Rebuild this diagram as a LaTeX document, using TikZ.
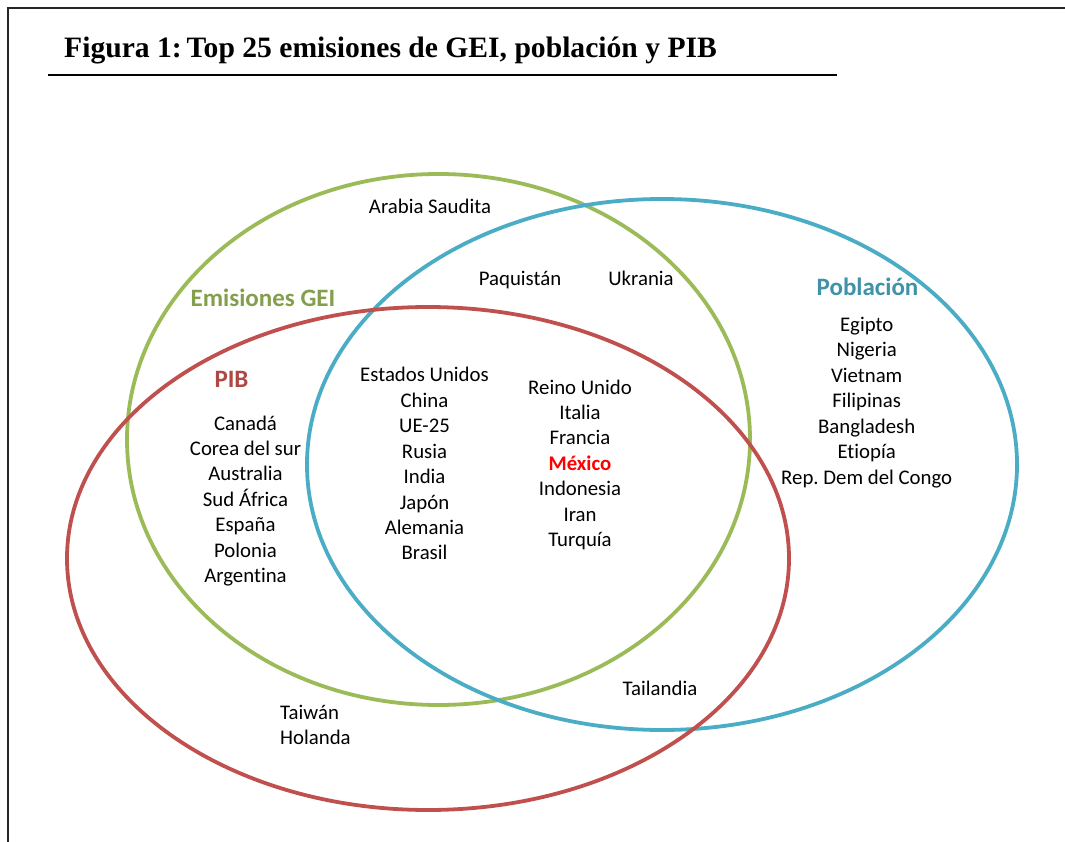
\documentclass[tikz,border=0pt]{standalone}
\usepackage{fontspec}
\setmainfont[Ligatures={NoCommon}]{Carlito}
\newfontfamily\titlefont{Liberation Serif}
\definecolor{geigreen}{HTML}{9BBB59}
\definecolor{poblue}{HTML}{4BACC6}
\definecolor{pibred}{HTML}{C0504D}
\begin{document}
\begin{tikzpicture}[x=1pt,y=-1pt,
  item/.style={anchor=base,inner sep=0pt,font=\fontsize{20.8}{24}\selectfont},
  setlabel/.style={anchor=base,inner sep=0pt,font=\fontsize{25}{30}\selectfont\bfseries},
  ring/.style={line width=3.8pt}]
\useasboundingbox (0,0) rectangle (1065,842);
% frame
\draw[line width=1.6pt,black!85] (8,842) -- (8,8) -- (1065,8);
% title
\node[anchor=base west,inner sep=0pt,font=\titlefont\fontsize{29.6}{34}\selectfont\bfseries] (title) at (64,58) {Figura 1:\,Top 25 emisiones de GEI, población y PIB};
\coordinate (ulA) at (48,75);
\coordinate (ulB) at (837,75);
\draw[line width=1.4pt] (ulA) -- (ulB);
% ellipses
\draw[ring,geigreen] (438.5,439.5) ellipse [x radius=311.5, y radius=265.5];
\draw[ring,poblue] (662,464.5) ellipse [x radius=355, y radius=265.5];
\draw[ring,pibred] (428,558.5) ellipse [x radius=361, y radius=251.5];
% set labels
\node[setlabel,text=geigreen!85!black] (lgei) at (263,306) {Emisiones GEI};
\node[setlabel,text=poblue!85!black] (lpob) at (867.5,295) {Población};
\node[setlabel,text=pibred!90!black] (lpib) at (231.5,387) {PIB};
% single items
\node[item] (arabia) at (430,214) {Arabia Saudita};
\node[item] (paq) at (520,286) {Paquistán};
\node[item] (ukr) at (641,286) {Ukrania};
\node[item] (tai) at (660,695) {Tailandia};
\node[item,anchor=base west] (taiw) at (280,719) {Taiwán};
\node[item,anchor=base west] (hol) at (280,744) {Holanda};
% lists
\foreach \t [count=\i] in {Canadá,Corea del sur,Australia,Sud África,España,Polonia,Argentina}
  \node[item] (pibonly\i) at (245.5,{430+25.45*(\i-1)}) {\t};
\foreach \t [count=\i] in {Estados Unidos,China,UE-25,Rusia,India,Japón,Alemania,Brasil}
  \node[item] (allthree\i) at (424.5,{381.7+25.47*(\i-1)}) {\t};
\foreach \t [count=\i] in {Reino Unido,Italia,Francia,,Indonesia,Iran,Turquía}
  \node[item] (pibpob\i) at (580,{394+25.45*(\i-1)}) {\t};
\node[item,font=\fontsize{20.8}{24}\selectfont\bfseries,text=red] (mexico) at (580,{394+25.45*3}) {México};
\foreach \t [count=\i] in {Egipto,Nigeria,Vietnam,Filipinas,Bangladesh,Etiopía,Rep.\ Dem del Congo}
  \node[item] (pobonly\i) at (866.7,{331+25.5*(\i-1)}) {\t};
\end{tikzpicture}
\end{document}
